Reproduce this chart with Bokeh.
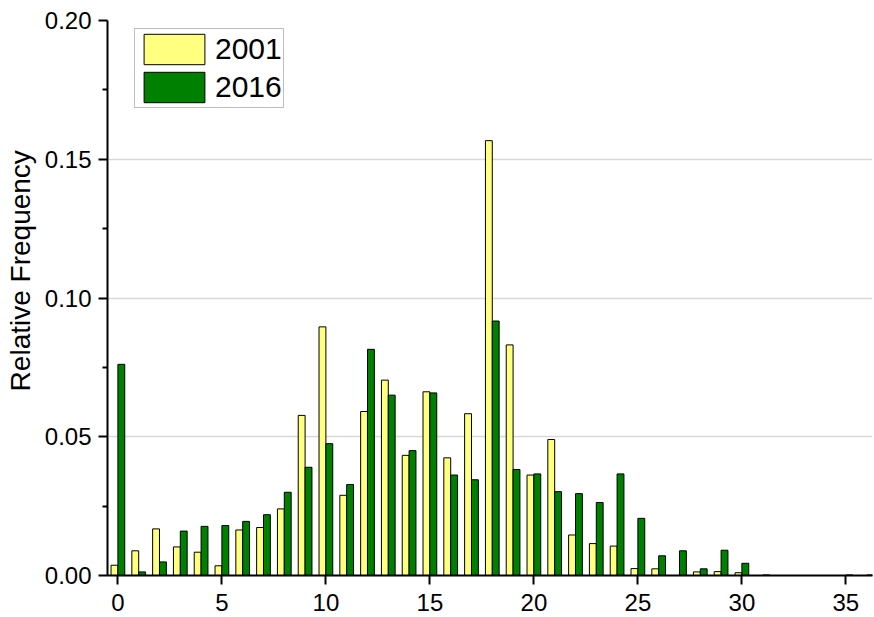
from bokeh.plotting import figure
from bokeh.models import (FixedTicker, Legend, LegendItem, ColumnDataSource,
                          NumeralTickFormatter, Range1d)
from bokeh.transform import dodge
from bokeh.embed import file_html
from bokeh.resources import INLINE

# ---- data ----
bins = list(range(0, 37))
freq_2001 = [0.0037, 0.0089, 0.0168, 0.0103, 0.0084, 0.0035, 0.0164, 0.0173, 0.0240, 0.0577,
             0.0896, 0.0289, 0.0591, 0.0704, 0.0433, 0.0662, 0.0424, 0.0583, 0.1567, 0.0831,
             0.0362, 0.0490, 0.0146, 0.0115, 0.0106, 0.0025, 0.0024, 0.0000, 0.0013, 0.0014,
             0.0010, 0.0000, 0.0000, 0.0000, 0.0000, 0.0000, 0.0000]
freq_2016 = [0.0761, 0.0013, 0.0049, 0.0160, 0.0177, 0.0180, 0.0195, 0.0219, 0.0300, 0.0390,
             0.0475, 0.0328, 0.0815, 0.0650, 0.0450, 0.0658, 0.0362, 0.0345, 0.0917, 0.0382,
             0.0366, 0.0302, 0.0295, 0.0263, 0.0366, 0.0206, 0.0071, 0.0089, 0.0024, 0.0091,
             0.0044, 0.0002, 0.0000, 0.0000, 0.0000, 0.0002, 0.0002]
series_labels = ["2001", "2016"]
x_ticks = [0, 5, 10, 15, 20, 25, 30, 35]
y_ticks = [0.0, 0.05, 0.10, 0.15, 0.20]
y_minor = [0.025, 0.075, 0.125, 0.175]
y_title = "Relative Frequency"

src = ColumnDataSource(dict(x=bins, a=freq_2001, b=freq_2016))

FONT = "Liberation Sans"

p = figure(width=874, height=617, x_range=Range1d(-0.5, 36.28), y_range=Range1d(0, 0.2),
           output_backend="svg", toolbar_location=None,
           min_border_left=107, min_border_right=2, min_border_top=20, min_border_bottom=42)
p.outline_line_color = None
p.background_fill_color = "white"

bw = 0.33
r1 = p.vbar(x=dodge("x", -bw / 2, range=p.x_range), top="a", width=bw, source=src,
            fill_color="#FFFF80", line_color="black", line_width=1)
r2 = p.vbar(x=dodge("x", bw / 2, range=p.x_range), top="b", width=bw, source=src,
            fill_color="#008000", line_color="black", line_width=1)

# axes
p.xaxis.ticker = FixedTicker(ticks=x_ticks, minor_ticks=[])
p.yaxis.ticker = FixedTicker(ticks=y_ticks, minor_ticks=y_minor)
p.yaxis.formatter = NumeralTickFormatter(format="0.00")
for ax in (p.xaxis, p.yaxis):
    ax.axis_line_width = 2
    ax.axis_line_color = "black"
    ax.major_tick_line_width = 2
    ax.major_tick_line_color = "black"
    ax.minor_tick_line_width = 2
    ax.minor_tick_line_color = "black"
    ax.major_tick_in = 0
    ax.major_tick_out = 9
    ax.minor_tick_in = 0
    ax.minor_tick_out = 5
    ax.major_label_text_font = FONT
    ax.major_label_text_font_size = "24px"
    ax.major_label_text_color = "black"
p.xaxis.major_label_standoff = 9
p.yaxis.major_label_standoff = 7
# leading no-break spaces shift the centred title upward, as in the original
p.yaxis.axis_label = "\u00a0" * 7 + y_title
p.yaxis.axis_label_text_font = FONT
p.yaxis.axis_label_text_font_size = "28px"
p.yaxis.axis_label_text_font_style = "normal"
p.yaxis.axis_label_text_color = "black"
p.yaxis.axis_label_standoff = 6

# grid
p.xgrid.visible = False
p.ygrid.ticker = FixedTicker(ticks=[0.05, 0.10, 0.15])
p.ygrid.grid_line_color = "#D9D9D9"
p.ygrid.grid_line_width = 1.5

# legend
legend = Legend(items=[LegendItem(label=series_labels[0], renderers=[r1]),
                       LegendItem(label=series_labels[1], renderers=[r2])],
                location=(27, 467))
legend.glyph_width = 76
legend.glyph_height = 38
legend.spacing = 0
legend.padding = 1
legend.margin = 0
legend.label_standoff = 3
legend.label_text_font = FONT
legend.label_text_font_size = "30px"
legend.label_text_color = "black"
legend.border_line_color = "#808080"
legend.border_line_width = 1
legend.background_fill_color = "white"
legend.background_fill_alpha = 1
p.add_layout(legend)

open("out.html", "w").write(file_html(p, INLINE))
